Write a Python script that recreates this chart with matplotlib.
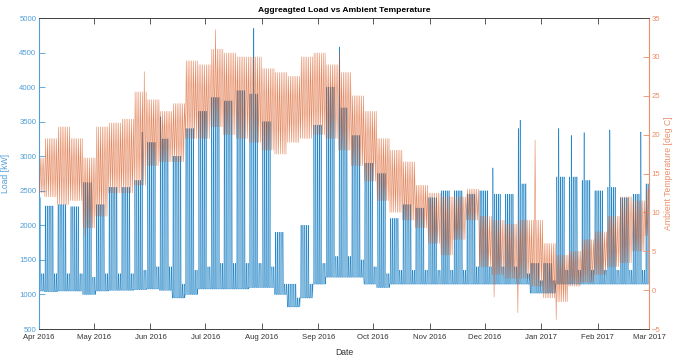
import numpy as np
import matplotlib
matplotlib.use("Agg")
import matplotlib.pyplot as plt
import matplotlib.dates as mdates

plt.rcParams['font.family'] = ['Liberation Sans', 'DejaVu Sans']

# Weekly summary of the hourly records, one entry per week (weeks start on Monday 28 Mar 2016)
load_peak = [2400, 2280, 2300, 2270, 2620, 2300, 2550, 2550, 2650, 3200,
             3250, 3000, 3400, 3650, 3850, 3800, 3950, 3900, 3500, 1900,
             1150, 2000, 3450, 4000, 3700, 3300, 2900, 2750, 2100, 2300,
             2250, 2400, 2500, 2500, 2450, 2500, 2450, 2450, 2600, 1450,
             1450, 2700, 2700, 2650, 2500, 2550, 2400, 2450, 2600]
load_weekend = [1300, 1300, 1300, 1300, 1250, 1300, 1300, 1300, 1350, 1400,
                1400, 1150, 1350, 1400, 1450, 1450, 1450, 1450, 1400, 1150,
                950, 1150, 1450, 1550, 1550, 1500, 1400, 1300, 1350, 1350,
                1350, 1350, 1350, 1350, 1400, 1400, 1400, 1400, 1300, 1200,
                1200, 1350, 1350, 1350, 1350, 1350, 1350, 1350, 1350]
load_base = [1050, 1040, 1050, 1050, 1000, 1050, 1060, 1060, 1070, 1080,
             1060, 950, 1000, 1080, 1080, 1080, 1080, 1100, 1100, 1000,
             820, 950, 1150, 1250, 1250, 1250, 1150, 1100, 1150, 1150,
             1150, 1150, 1150, 1150, 1150, 1150, 1150, 1150, 1150, 1020,
             1020, 1150, 1150, 1150, 1150, 1150, 1150, 1150, 1150]
temp_high = [17, 19.5, 21, 19.5, 17, 21, 21.5, 22, 25.5, 24.5,
             23, 24, 29.5, 29, 31, 30.5, 30, 30, 28.5, 28,
             27.5, 30, 30.5, 29, 28, 25, 23, 19.5, 18, 16.5,
             13.5, 12.5, 12, 12, 13, 9.5, 9, 8.5, 9, 9,
             6, 4.5, 5, 6.5, 7.5, 9.5, 12, 11.5, 13]
temp_low = [12.5, 12, 11, 11.5, 8, 9.5, 12.5, 12.5, 13.5, 16,
            16.5, 16.5, 19.5, 19.5, 21, 20, 19.5, 19, 18, 17.5,
            19, 19.5, 20, 19.5, 18, 16, 14, 11.5, 10, 9,
            8, 6, 4.5, 6.5, 9, 3, 2, 1.5, 1.5, 0.5,
            -1, -1.5, 0.5, 1, 2, 3, 3.5, 5, 7]

# single days that stand out (day number counted from 1 Apr 2016)
load_spike_day = [56, 66, 117, 164, 248, 262, 263, 284, 291, 298, 312, 329]
load_spike_kw = [3350, 3570, 4850, 4580, 2830, 3400, 3520, 3400, 3300, 3340, 3380, 3350]
hot_day = [57, 96, 164, 271]
hot_temp = [28.1, 33.5, 30.5, 19.3]
cold_day = [25, 249, 262, 283]
cold_temp = [7.1, -0.9, -2.9, -3.8]

n_days = 334
start = np.datetime64('2016-04-01T00:00')

t_load, v_load, t_temp, v_temp = [], [], [], []
for d in range(n_days):
    k = (d + 4) // 7
    weekday = (d + 4) % 7
    top = load_peak[k] if weekday < 5 else load_weekend[k]
    if d in load_spike_day:
        top = load_spike_kw[load_spike_day.index(d)]
    base = load_base[k]
    for h, v in zip((0, 7, 10, 15, 19), (base, base, top, top, base)):
        t_load.append(d * 24 + h)
        v_load.append(v)
    lo, hi = temp_low[k], temp_high[k]
    if d in hot_day:
        hi = hot_temp[hot_day.index(d)]
    if d in cold_day:
        lo = cold_temp[cold_day.index(d)]
    t_temp += [d * 24 + 5, d * 24 + 15]
    v_temp += [lo, hi]

t_load = start + np.array(t_load).astype('timedelta64[h]')
t_temp = start + np.array(t_temp).astype('timedelta64[h]')

blue = '#0072BD'
orange = '#D95319'
blue_ax = '#4F9FDA'
orange_ax = '#EC8E6A'
gray = '#404040'

fig = plt.figure(figsize=(6.73, 3.58), dpi=100)
ax = fig.add_axes([0.058, 0.081, 0.9063, 0.8687])
ax2 = ax.twinx()

ax.plot(t_load, v_load, color=blue, lw=0.4, alpha=0.85)
ax2.plot(t_temp, v_temp, color=orange, lw=0.4, alpha=0.7)

ax.set_xlim(np.datetime64('2016-04-01'), np.datetime64('2017-03-01'))
ax.set_ylim(500, 5000)
ax.set_yticks(np.arange(500, 5001, 500))
ax2.set_ylim(-5, 35)
ax2.set_yticks(np.arange(-5, 36, 5))

ax.xaxis.set_major_locator(mdates.MonthLocator())
ax.xaxis.set_major_formatter(mdates.DateFormatter('%b %Y'))

fs = 5.6
ax.tick_params(axis='x', direction='in', length=4, width=0.6, color=gray,
               labelsize=fs, labelcolor='#333333', top=True, pad=3.5)
ax.tick_params(axis='y', direction='in', length=4, width=0.6, color=blue_ax,
               labelsize=fs, labelcolor=blue_ax, pad=2)
ax2.tick_params(axis='y', direction='in', length=4, width=0.6, color=orange_ax,
                labelsize=fs, labelcolor=orange_ax, pad=2)

for a in (ax, ax2):
    a.spines['top'].set_color(gray)
    a.spines['bottom'].set_color(gray)
    a.spines['top'].set_linewidth(0.6)
    a.spines['bottom'].set_linewidth(0.6)
ax.spines['left'].set_color(blue_ax)
ax2.spines['left'].set_visible(False)
ax.spines['right'].set_visible(False)
ax2.spines['right'].set_color(orange_ax)
ax.spines['left'].set_linewidth(0.8)
ax2.spines['right'].set_linewidth(0.8)

ax.set_xlabel('Date', fontsize=6.2, color='#333333')
ax.xaxis.set_label_coords(0.5, -0.062)
ax.set_ylabel('Load [kW]', fontsize=6.2, color=blue_ax)
ax.yaxis.set_label_coords(-0.047, 0.5)
ax2.set_ylabel('Ambient Temperature [deg C]', fontsize=6.2, color=orange_ax, rotation=90)
ax2.yaxis.set_label_coords(1.025, 0.5)
ax.set_title('Aggreagted Load vs Ambient Temperature', fontsize=6.1,
             fontweight='bold', pad=4)

fig.savefig('out.png', dpi=100)
